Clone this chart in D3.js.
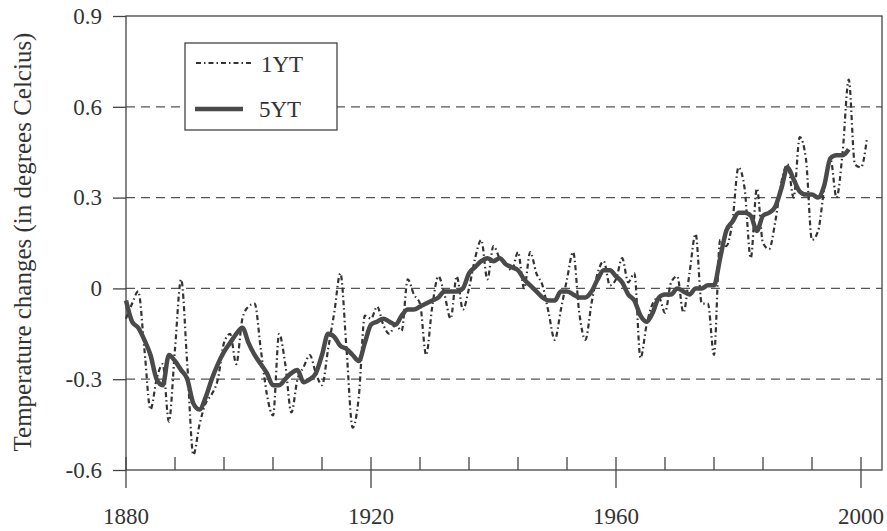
<!DOCTYPE html>
<html><head><meta charset="utf-8">
<script src="https://cdn.jsdelivr.net/npm/d3@7"></script>
<style>body{margin:0;background:#fff}svg{display:block}svg text{font-family:"Liberation Serif","Times New Roman","DejaVu Serif",serif !important;fill:#333}</style>
</head><body><svg id="c" width="887" height="531"></svg>
<script>
const startYear = 1880;
const annualValues = [
-0.10,-0.05,-0.01,-0.20,-0.40,-0.30,-0.25,-0.44,-0.20,0.03,
-0.25,-0.55,-0.45,-0.38,-0.35,-0.30,-0.18,-0.15,-0.25,-0.10,
-0.06,-0.05,-0.20,-0.35,-0.42,-0.15,-0.25,-0.41,-0.30,-0.26,
-0.22,-0.28,-0.32,-0.20,-0.08,0.05,-0.20,-0.46,-0.36,-0.09,
-0.10,-0.06,-0.12,-0.15,-0.12,-0.14,0.03,-0.02,-0.05,-0.22,
-0.06,0.04,-0.02,-0.10,0.04,-0.07,0.00,0.10,0.16,0.03,
0.14,0.10,0.08,0.06,0.12,0.00,0.12,0.05,0.01,-0.08,
-0.17,-0.07,0.03,0.12,-0.08,-0.17,-0.05,0.05,0.09,0.01,
0.03,0.10,0.02,0.05,-0.23,-0.12,-0.05,-0.03,-0.08,0.02,
0.04,-0.08,0.05,0.18,-0.05,-0.05,-0.22,0.16,0.14,0.22,
0.40,0.33,0.10,0.33,0.15,0.13,0.22,0.35,0.41,0.30,
0.50,0.43,0.16,0.19,0.33,0.43,0.30,0.45,0.69,0.41,
0.40,0.50];
const smoothValues = [
-0.04,-0.11,-0.13,-0.17,-0.22,-0.30,-0.32,-0.22,-0.24,-0.27,
-0.30,-0.38,-0.40,-0.36,-0.30,-0.25,-0.21,-0.18,-0.15,-0.13,
-0.18,-0.22,-0.25,-0.28,-0.32,-0.32,-0.30,-0.28,-0.27,-0.31,
-0.30,-0.28,-0.22,-0.15,-0.16,-0.19,-0.20,-0.22,-0.24,-0.18,
-0.12,-0.11,-0.10,-0.11,-0.12,-0.09,-0.07,-0.07,-0.06,-0.05,
-0.04,-0.03,-0.01,-0.01,-0.01,0.00,0.05,0.07,0.09,0.10,
0.09,0.10,0.08,0.07,0.06,0.03,0.01,-0.01,-0.03,-0.04,
-0.04,-0.01,-0.01,-0.02,-0.03,-0.03,-0.01,0.03,0.06,0.06,
0.04,0.02,-0.02,-0.04,-0.09,-0.11,-0.08,-0.03,-0.02,-0.02,
0.00,-0.01,-0.02,0.00,0.00,0.01,0.01,0.10,0.19,0.22,
0.25,0.25,0.24,0.19,0.24,0.25,0.27,0.33,0.40,0.36,
0.32,0.31,0.31,0.30,0.34,0.43,0.44,0.44,0.46];
const yTicks = [-0.6,-0.3,0,0.3,0.6,0.9];
const yTickLabels = ["-0.6","-0.3","0","0.3","0.6","0.9"];
const xMajor = [1880,1920,1960,2000];
const xMinor = [1888,1896,1904,1912,1928,1936,1944,1952,1968,1976,1984,1992];
const seriesNames = ["1YT","5YT"];
const yTitle = "Temperature changes (in degrees Celcius)";

const svg = d3.select("#c");
const L=126,R=882,T=16,B=470;
const x = d3.scaleLinear().domain([1880,2000]).range([L,861]);
const y = d3.scaleLinear().domain([-0.6,0.9]).range([B,T]);
const ink="#444";
const serif = '"Liberation Serif","Times New Roman",serif';

svg.append("g").selectAll("line").data(yTicks.filter(v=>v>-0.6&&v<0.9)).join("line")
 .attr("x1",L).attr("x2",R).attr("y1",d=>y(d)).attr("y2",d=>y(d))
 .attr("stroke","#555").attr("stroke-width",1.2).attr("stroke-dasharray","9,6");

svg.append("rect").attr("x",L).attr("y",T).attr("width",R-L).attr("height",B-T)
 .attr("fill","none").attr("stroke",ink).attr("stroke-width",1.3);

const ya = svg.append("g").attr("transform",`translate(${L},0)`)
 .call(d3.axisLeft(y).tickValues(yTicks).tickFormat((d,i)=>yTickLabels[i]).tickSize(13).tickPadding(11));
ya.attr("font-family",serif);
ya.select(".domain").remove();
ya.selectAll("line").attr("stroke",ink).attr("stroke-width",1.3);
ya.selectAll("text").attr("font-size",23).attr("fill","#333");

svg.append("g").selectAll("line").data(xMinor).join("line")
 .attr("x1",d=>x(d)).attr("x2",d=>x(d)).attr("y1",B-13).attr("y2",B)
 .attr("stroke",ink).attr("stroke-width",1.3);
svg.append("g").selectAll("line").data(xMajor).join("line")
 .attr("x1",d=>x(d)).attr("x2",d=>x(d)).attr("y1",B-13).attr("y2",B+18)
 .attr("stroke",ink).attr("stroke-width",1.3);
svg.append("g").attr("font-family",serif).selectAll("text").data(xMajor).join("text")
 .attr("x",d=>x(d)).attr("y",B+54).attr("text-anchor","middle").attr("font-size",23).text(d=>d);

svg.append("text").attr("font-family",serif).attr("transform","translate(31,242) rotate(-90)").attr("text-anchor","middle")
 .attr("font-size",25).text(yTitle);

const line = d3.line().x((d,i)=>x(startYear+i)).y(d=>y(d)).curve(d3.curveMonotoneX);
svg.append("path").datum(annualValues).attr("d",line).attr("fill","none")
 .attr("stroke","#333").attr("stroke-width",2.2).attr("stroke-dasharray","5,3,1.5,3");
svg.append("path").datum(smoothValues).attr("d",line).attr("fill","none")
 .attr("stroke","#4a4a4a").attr("stroke-width",4.5).attr("stroke-linejoin","round");

const lg = svg.append("g").attr("font-family",serif);
lg.append("rect").attr("x",185).attr("y",43).attr("width",152).attr("height",87)
 .attr("fill","#fff").attr("stroke",ink).attr("stroke-width",1.3);
lg.append("line").attr("x1",196).attr("x2",253).attr("y1",63).attr("y2",63)
 .attr("stroke","#333").attr("stroke-width",2.2).attr("stroke-dasharray","5,3,1.5,3");
lg.append("line").attr("x1",195).attr("x2",243).attr("y1",109).attr("y2",109)
 .attr("stroke","#4a4a4a").attr("stroke-width",4.5);
lg.append("text").attr("x",261).attr("y",72).attr("font-size",23).text(seriesNames[0]);
lg.append("text").attr("x",259).attr("y",117).attr("font-size",23).text(seriesNames[1]);
</script></body></html>
